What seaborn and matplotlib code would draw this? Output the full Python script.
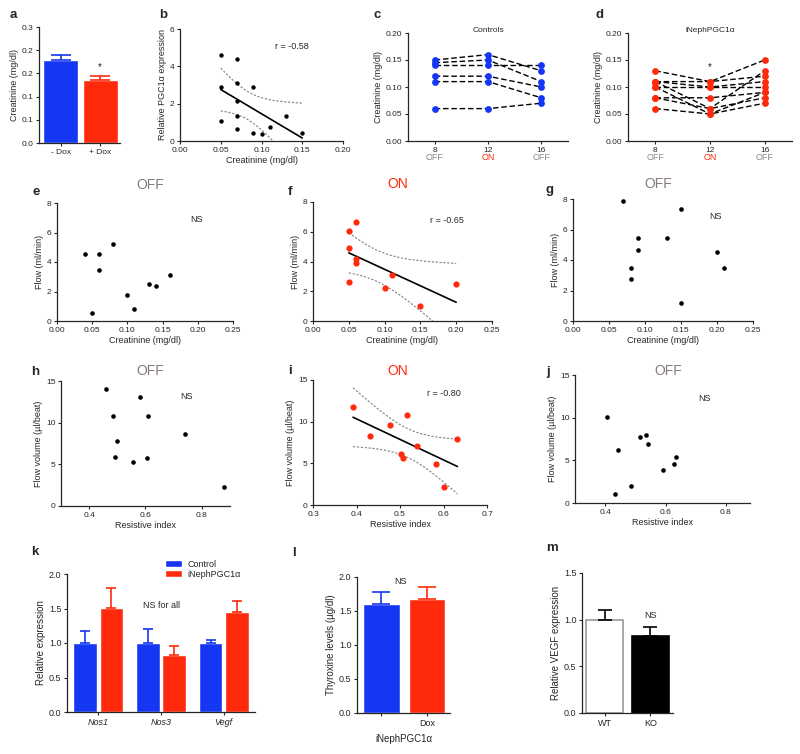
import numpy as np
import pandas as pd
import matplotlib
matplotlib.use("Agg")
import matplotlib.pyplot as plt
import seaborn as sns
from matplotlib.ticker import FormatStrFormatter

# ---- data ----
a_groups = ['- Dox', '+ Dox']
a_means = [0.215, 0.164]
a_err = [0.013, 0.009]

b_creat = [0.05, 0.07, 0.07, 0.05, 0.09, 0.07, 0.07, 0.13, 0.05, 0.07, 0.11, 0.09, 0.10, 0.15]
b_pgc = [4.63, 4.37, 3.12, 2.91, 2.91, 2.12, 1.32, 1.32, 1.07, 0.64, 0.77, 0.45, 0.36, 0.41]

weeks = [8, 12, 16]
week_state = ['OFF', 'ON', 'OFF']
ctrl_creat = [[0.15, 0.16, 0.13], [0.145, 0.15, 0.11], [0.14, 0.14, 0.14],
              [0.12, 0.12, 0.10], [0.11, 0.11, 0.08], [0.06, 0.06, 0.07]]
pgc_creat = [[0.13, 0.11, 0.15], [0.11, 0.11, 0.12], [0.11, 0.10, 0.11],
             [0.11, 0.06, 0.13], [0.10, 0.10, 0.10], [0.10, 0.05, 0.09],
             [0.08, 0.08, 0.09], [0.08, 0.06, 0.08], [0.06, 0.05, 0.07]]

e_creat = [0.04, 0.06, 0.06, 0.08, 0.05, 0.10, 0.11, 0.13, 0.14, 0.16]
e_flow = [4.53, 4.53, 3.47, 5.21, 0.52, 1.77, 0.82, 2.52, 2.38, 3.13]
f_creat = [0.05, 0.06, 0.05, 0.06, 0.06, 0.05, 0.11, 0.10, 0.15, 0.20]
f_flow = [6.07, 6.65, 4.88, 4.18, 3.91, 2.61, 3.10, 2.25, 1.01, 2.52]
g_creat = [0.07, 0.15, 0.08, 0.08, 0.09, 0.09, 0.13, 0.15, 0.20, 0.21]
g_flow = [7.87, 7.34, 3.47, 2.77, 5.45, 4.68, 5.41, 1.16, 4.55, 3.45]

h_ri = [0.46, 0.58, 0.485, 0.61, 0.50, 0.49, 0.555, 0.605, 0.74, 0.88]
h_vol = [14.0, 13.1, 10.8, 10.8, 7.8, 5.9, 5.3, 5.8, 8.7, 2.3]
i_ri = [0.392, 0.43, 0.478, 0.515, 0.502, 0.508, 0.54, 0.582, 0.60, 0.632]
i_vol = [11.8, 8.3, 9.6, 10.8, 6.1, 5.6, 7.1, 4.9, 2.2, 7.9]
j_ri = [0.407, 0.441, 0.432, 0.486, 0.516, 0.535, 0.543, 0.593, 0.627, 0.636]
j_vol = [10.1, 6.2, 1.1, 2.0, 7.7, 8.0, 6.9, 3.9, 4.6, 5.4]

genes = ['Nos1', 'Nos3', 'Vegf']
k_groups = ['Control', 'iNephPGC1α']
k_ctrl = [1.0, 1.0, 1.0]
k_ctrl_err = [0.17, 0.20, 0.05]
k_pgc = [1.51, 0.83, 1.45]
k_pgc_err = [0.29, 0.12, 0.16]

l_groups = ['ctrl', 'dox']
l_ticklabels = ['', 'Dox']
l_means = [1.60, 1.68]
l_err = [0.18, 0.17]

m_groups = ['WT', 'KO']
m_means = [1.0, 0.83]
m_err = [0.10, 0.09]

BLUE = '#1536f2'
RED = '#ff2a0c'
GRAY = '#857a7a'
W, H = 800, 754
T95 = {8: 2.306, 12: 2.179}

sns.set_style('ticks')
plt.rcParams['font.family'] = ['Liberation Sans', 'DejaVu Sans']
plt.rcParams['axes.linewidth'] = 0.9

fig = plt.figure(figsize=(8, 7.54), dpi=100)


def px_box(x0, y0, x1, y1):
    return [x0 / W, 1 - y1 / H, (x1 - x0) / W, (y1 - y0) / H]


def style(ax, xlabel='', ylabel='', size=6):
    sns.despine(ax=ax)
    ax.tick_params(length=2.5, width=0.8, labelsize=size, pad=1.5)
    ax.set_xlabel(xlabel, fontsize=size + 0.5, labelpad=2)
    ax.set_ylabel(ylabel, fontsize=size + 0.5, labelpad=2)


def letter(x, y, s):
    fig.text(x / W, 1 - y / H, s, fontsize=9.5, fontweight='bold', ha='center', va='center')


def reg_bands(ax, x, y):
    # least squares line + 95% confidence band of the fit
    x = np.asarray(x, float)
    y = np.asarray(y, float)
    n = len(x)
    slope, icpt = np.polyfit(x, y, 1)
    xs = np.linspace(x.min(), x.max(), 200)
    fit = icpt + slope * xs
    resid = y - (icpt + slope * x)
    s = np.sqrt((resid ** 2).sum() / (n - 2))
    se = s * np.sqrt(1 / n + (xs - x.mean()) ** 2 / ((x - x.mean()) ** 2).sum())
    t = T95[n - 2]
    sns.lineplot(x=xs, y=fit, color='k', lw=1.2, ax=ax)
    for band in (fit - t * se, fit + t * se):
        sns.lineplot(x=xs, y=band, color='#808080', lw=0.8, linestyle=(0, (2, 1.5)), ax=ax)


def up_errors(ax, means, errs, colors, capsize):
    bars = [p for c in ax.containers for p in c]
    for p, m, e, c in zip(bars, means, errs, colors):
        ax.errorbar(p.get_x() + p.get_width() / 2, m, yerr=[[0], [e]], fmt='none',
                    ecolor=c, elinewidth=1.2, capsize=capsize, capthick=1.2, zorder=1)


# ---- a ----
ax = fig.add_axes(px_box(39, 27, 120, 143))
sns.barplot(x=a_groups, y=a_means, hue=a_groups, palette=[BLUE, RED], width=0.89,
            saturation=1, legend=False, ax=ax)
up_errors(ax, a_means, a_err, [BLUE, RED], 7)
ax.set_ylim(0, 0.3)
ax.set_xlim(-0.55, 1.5)
ax.set_yticks(np.linspace(0, 0.3, 6))
ax.yaxis.set_major_formatter(FormatStrFormatter('%.1f'))
ax.text(1, 0.197, '*', ha='center', va='center', fontsize=7)
style(ax, '', 'Creatinine (mg/dl)')
letter(13, 15, 'a')

# ---- b ----
ax = fig.add_axes(px_box(180, 29, 343, 141))
sns.scatterplot(x=b_creat, y=b_pgc, color='k', s=10, linewidth=0, ax=ax, zorder=3)
reg_bands(ax, b_creat, b_pgc)
ax.set_xlim(0, 0.2)
ax.set_ylim(0, 6)
ax.set_xticks(np.arange(0, 0.201, 0.05))
ax.xaxis.set_major_formatter(FormatStrFormatter('%.2f'))
ax.set_yticks([0, 2, 4, 6])
ax.text(0.137, 5.08, 'r = -0.58', ha='center', va='center', fontsize=6.5)
style(ax, 'Creatinine (mg/dl)', 'Relative PGC1α expression')
letter(163, 15, 'b')


# ---- c, d ----
def time_panel(box, values, color, title, star=False):
    ax = fig.add_axes(px_box(*box))
    df = pd.DataFrame([(k, w, v) for k, row in enumerate(values) for w, v in zip(weeks, row)],
                      columns=['mouse', 'week', 'creat'])
    sns.lineplot(data=df, x='week', y='creat', units='mouse', estimator=None, color='k',
                 lw=1, linestyle=(0, (4, 2)), ax=ax)
    sns.scatterplot(data=df, x='week', y='creat', color=color, s=24, linewidth=0, ax=ax, zorder=3)
    ax.set_xlim(6, 18)
    ax.set_ylim(0, 0.2)
    ax.set_xticks(weeks)
    ax.set_yticks(np.arange(0, 0.201, 0.05))
    ax.yaxis.set_major_formatter(FormatStrFormatter('%.2f'))
    for w, st in zip(weeks, week_state):
        ax.annotate(st, xy=(w, 0), xycoords=('data', 'axes fraction'), xytext=(0, -8.5),
                    textcoords='offset points', ha='center', va='top', fontsize=6.5,
                    color=RED if st == 'ON' else '#8a8a8a')
    ax.text(0.5, 1.02, title, transform=ax.transAxes, ha='center', va='center', fontsize=6)
    if star:
        ax.text(12, 0.136, '*', ha='center', va='center', fontsize=7)
    style(ax, '', 'Creatinine (mg/dl)')
    return ax


time_panel((408, 33, 568, 141), ctrl_creat, BLUE, 'Controls')
letter(377, 15, 'c')
time_panel((628, 33, 792, 141), pgc_creat, RED, 'iNephPGC1α', star=True)
letter(600, 15, 'd')


# ---- e-j ----
def scatter_panel(box, x, y, color, size, xlim, ylim, xticks, yticks, xlab, ylab,
                  note, note_xy, fit=False, fmt=None):
    ax = fig.add_axes(px_box(*box))
    sns.scatterplot(x=x, y=y, color=color, s=size, linewidth=0, ax=ax, zorder=3)
    if fit:
        reg_bands(ax, x, y)
    ax.set_xlim(*xlim)
    ax.set_ylim(*ylim)
    ax.set_xticks(xticks)
    ax.set_yticks(yticks)
    if fmt:
        ax.xaxis.set_major_formatter(FormatStrFormatter(fmt))
    ax.text(*note_xy, note, ha='center', va='center', fontsize=6.5)
    style(ax, xlab, ylab)
    return ax


cre_ticks = np.arange(0, 0.251, 0.05)
scatter_panel((57, 203, 233, 321), e_creat, e_flow, 'k', 11, (0, 0.25), (0, 8), cre_ticks,
              [0, 2, 4, 6, 8], 'Creatinine (mg/dl)', 'Flow (ml/min)', 'NS', (0.198, 6.87), fmt='%.2f')
scatter_panel((313, 202, 492, 321), f_creat, f_flow, RED, 20, (0, 0.25), (0, 8), cre_ticks,
              [0, 2, 4, 6, 8], 'Creatinine (mg/dl)', 'Flow (ml/min)', 'r = -0.65', (0.187, 6.74),
              fit=True, fmt='%.2f')
scatter_panel((573, 199, 753, 321), g_creat, g_flow, 'k', 11, (0, 0.25), (0, 8), cre_ticks,
              [0, 2, 4, 6, 8], 'Creatinine (mg/dl)', 'Flow (ml/min)', 'NS', (0.198, 6.88), fmt='%.2f')
scatter_panel((61, 381, 230, 506), h_ri, h_vol, 'k', 11, (0.3, 0.9), (0, 15), [0.4, 0.6, 0.8],
              [0, 5, 10, 15], 'Resistive index', 'Flow volume (µl/beat)', 'NS', (0.746, 13.16))
scatter_panel((313, 380, 487, 505), i_ri, i_vol, RED, 20, (0.3, 0.7), (0, 15),
              [0.3, 0.4, 0.5, 0.6, 0.7], [0, 5, 10, 15], 'Resistive index', 'Flow volume (µl/beat)',
              'r = -0.80', (0.6, 13.4), fit=True)
scatter_panel((575, 375, 750, 503), j_ri, j_vol, 'k', 11, (0.3, 0.88), (0, 15), [0.4, 0.6, 0.8],
              [0, 5, 10, 15], 'Resistive index', 'Flow volume (µl/beat)', 'NS', (0.73, 12.3))

for (x, y, s, c) in [(150, 185, 'OFF', GRAY), (398, 184, 'ON', RED), (658, 184, 'OFF', GRAY),
                     (150, 371, 'OFF', GRAY), (398, 371, 'ON', RED), (668, 371, 'OFF', GRAY)]:
    fig.text(x / W, 1 - y / H, s, color=c, fontsize=10, ha='center', va='center')
letter(36, 192, 'e')
letter(290, 192, 'f')
letter(550, 190, 'g')
letter(35, 372, 'h')
letter(290, 371, 'i')
letter(548, 372, 'j')

# ---- k ----
ax = fig.add_axes(px_box(67, 574, 255, 712))
k_df = pd.DataFrame({'gene': genes * 2,
                     'group': [k_groups[0]] * 3 + [k_groups[1]] * 3,
                     'expr': k_ctrl + k_pgc})
sns.barplot(data=k_df, x='gene', y='expr', hue='group', palette=[BLUE, RED], width=0.84,
            gap=0.1, saturation=1, ax=ax)
up_errors(ax, k_ctrl + k_pgc, k_ctrl_err + k_pgc_err, [BLUE] * 3 + [RED] * 3, 3.6)
ax.set_xlim(-0.5, 2.5)
ax.set_ylim(0, 2.0)
ax.set_yticks(np.arange(0, 2.01, 0.5))
ax.yaxis.set_major_formatter(FormatStrFormatter('%.1f'))
for t in ax.get_xticklabels():
    t.set_style('italic')
ax.text(1.01, 1.55, 'NS for all', ha='center', va='center', fontsize=6.5)
ax.legend(loc='upper left', bbox_to_anchor=(0.5, 1.13), frameon=False, fontsize=6.5,
          handlelength=1.9, handleheight=0.85, borderaxespad=0, labelspacing=0.1, handletextpad=0.6)
style(ax, '', 'Relative expression', size=6.5)
letter(35, 552, 'k')

# ---- l ----
ax = fig.add_axes(px_box(357, 577, 450, 713))
sns.barplot(x=l_groups, y=l_means, hue=l_groups, palette=[BLUE, RED], width=0.8,
            saturation=1, legend=False, ax=ax)
up_errors(ax, l_means, l_err, [BLUE, RED], 6.5)
ax.set_xlim(-0.53, 1.5)
ax.set_ylim(0, 2.0)
ax.set_yticks(np.arange(0, 2.01, 0.5))
ax.yaxis.set_major_formatter(FormatStrFormatter('%.1f'))
ax.set_xticks([0, 1])
ax.set_xticklabels(l_ticklabels)
ax.text(0.42, 1.93, 'NS', ha='center', va='center', fontsize=6.5)
style(ax, 'iNephPGC1α', 'Thyroxine levels (µg/dl)', size=6.5)
ax.xaxis.labelpad = 5
letter(294, 553, 'l')

# ---- m ----
ax = fig.add_axes(px_box(582, 573, 673, 713))
sns.barplot(x=m_groups, y=m_means, hue=m_groups, palette=['white', 'black'], width=0.8,
            saturation=1, legend=False, ax=ax, linewidth=1.2, edgecolor='black')
ax.containers[0][0].set_edgecolor('#9a9a9a')
up_errors(ax, m_means, m_err, ['k', 'k'], 4.7)
ax.set_xlim(-0.49, 1.49)
ax.set_ylim(0, 1.5)
ax.set_yticks([0, 0.5, 1.0, 1.5])
ax.yaxis.set_major_formatter(FormatStrFormatter('%.1f'))
ax.text(1, 1.04, 'NS', ha='center', va='center', fontsize=6.5)
style(ax, '', 'Relative VEGF expression', size=6.5)
letter(552, 548, 'm')

fig.savefig('out.png', dpi=100)
